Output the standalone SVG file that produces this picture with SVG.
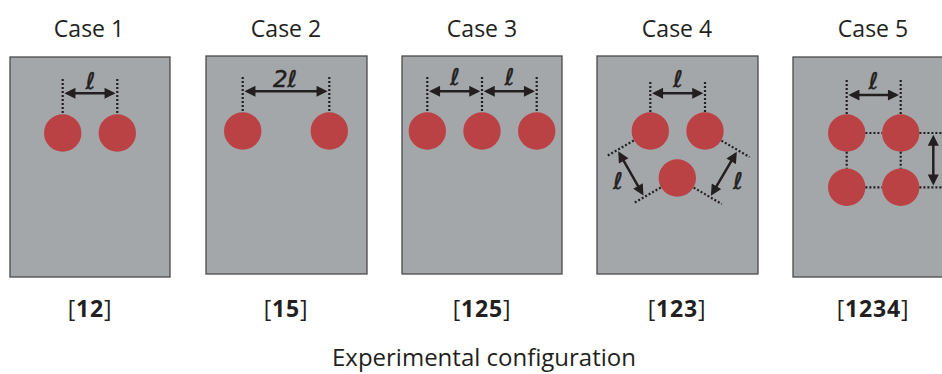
<svg xmlns="http://www.w3.org/2000/svg" width="942" height="374" viewBox="0 0 942 374">
<style>
.panel{fill:#a4a7aa;stroke:#4a4a4a;stroke-width:1.3}
.ball{fill:#bb4244}
.dot{stroke:#231f20;stroke-width:2.2;stroke-dasharray:2 2;fill:none}
.arr{stroke:#231f20;stroke-width:2.5;fill:none;marker-start:url(#ah);marker-end:url(#ah)}
.title{font-family:"Open Sans","Liberation Sans",sans-serif;font-size:23px;fill:#231f20;text-anchor:middle}
.ref{font-family:"Open Sans","Liberation Sans",sans-serif;font-size:23px;fill:#231f20;text-anchor:middle;letter-spacing:0.8px}
.ell{font-family:"DejaVu Sans",sans-serif;font-style:italic;font-size:23px;fill:#231f20;text-anchor:middle;stroke:#231f20;stroke-width:0.5}
.b{font-weight:bold}
</style>
<defs>
<marker id="ah" viewBox="0 0 10 10" refX="7.5" refY="5" markerUnits="userSpaceOnUse" markerWidth="12" markerHeight="11" orient="auto-start-reverse">
<path d="M0,0 L10,5 L0,10 z" fill="#231f20"/>
</marker>
</defs>

<g id="case1">
<text class="title" x="89" y="37">Case 1</text>
<rect class="panel" x="10" y="57" width="160" height="220"/>
<circle class="ball" cx="62.7" cy="133" r="18.7"/>
<circle class="ball" cx="117.3" cy="133" r="18.7"/>
<text class="ell" x="90.5" y="89">ℓ</text>
<text class="ref" x="90" y="317">[<tspan class="b">12</tspan>]</text>
</g>

<g id="case2">
<text class="title" x="286" y="37">Case 2</text>
<rect class="panel" x="206" y="56" width="161" height="218"/>
<circle class="ball" cx="242.7" cy="131" r="18.7"/>
<circle class="ball" cx="329.3" cy="131" r="18.7"/>
<text class="ell" x="285" y="87">2ℓ</text>
<text class="ref" x="286" y="317">[<tspan class="b">15</tspan>]</text>
</g>

<g id="case3">
<text class="title" x="482" y="37">Case 3</text>
<rect class="panel" x="402" y="56" width="160" height="218"/>
<circle class="ball" cx="427.3" cy="131" r="18.7"/>
<circle class="ball" cx="482" cy="131" r="18.7"/>
<circle class="ball" cx="536.7" cy="131" r="18.7"/>
<text class="ell" x="455" y="85">ℓ</text>
<text class="ell" x="509.5" y="85">ℓ</text>
<text class="ref" x="482" y="317">[<tspan class="b">125</tspan>]</text>
</g>

<g id="case4">
<text class="title" x="677" y="37">Case 4</text>
<rect class="panel" x="597" y="56" width="161" height="218"/>
<circle class="ball" cx="650.3" cy="131" r="18.7"/>
<circle class="ball" cx="705" cy="131" r="18.7"/>
<circle class="ball" cx="677.3" cy="178" r="18.7"/>
<text class="ell" x="678" y="87">ℓ</text>
<text class="ell" x="618" y="189">ℓ</text>
<text class="ell" x="738" y="189">ℓ</text>
<text class="ref" x="677" y="317">[<tspan class="b">123</tspan>]</text>
</g>

<g id="case5">
<text class="title" x="873" y="37">Case 5</text>
<rect class="panel" x="793" y="57" width="165" height="220"/>
<circle class="ball" cx="846.7" cy="133" r="18.7"/>
<circle class="ball" cx="900.7" cy="133" r="18.7"/>
<circle class="ball" cx="846.7" cy="187.3" r="18.7"/>
<circle class="ball" cx="900.7" cy="187.3" r="18.7"/>
<text class="ell" x="873.5" y="89">ℓ</text>
<text class="ell" x="948" y="168">ℓ</text>
<text class="ref" x="873" y="317">[<tspan class="b">1234</tspan>]</text>
</g>

<g id="connectors">
<!-- case 1 -->
<line class="dot" x1="62.7" y1="79" x2="62.7" y2="114"/>
<line class="dot" x1="117.3" y1="79" x2="117.3" y2="114"/>
<line class="arr" x1="67.2" y1="93.3" x2="112.8" y2="93.3"/>
<!-- case 2 -->
<line class="dot" x1="242.7" y1="77" x2="242.7" y2="112"/>
<line class="dot" x1="329.3" y1="77" x2="329.3" y2="112"/>
<line class="arr" x1="247.2" y1="91.3" x2="324.8" y2="91.3"/>
<!-- case 3 -->
<line class="dot" x1="427.3" y1="77" x2="427.3" y2="112"/>
<line class="dot" x1="482" y1="77" x2="482" y2="112"/>
<line class="dot" x1="536.7" y1="77" x2="536.7" y2="112"/>
<line class="arr" x1="431.8" y1="91.3" x2="477.5" y2="91.3"/>
<line class="arr" x1="486.5" y1="91.3" x2="532.2" y2="91.3"/>
<!-- case 4 -->
<line class="dot" x1="650.3" y1="82" x2="650.3" y2="112"/>
<line class="dot" x1="705" y1="82" x2="705" y2="112"/>
<line class="arr" x1="654.8" y1="93.3" x2="700.5" y2="93.3"/>
<line class="dot" x1="633.8" y1="140.5" x2="607" y2="155.9"/>
<line class="dot" x1="660.8" y1="187.5" x2="634" y2="202.9"/>
<line class="arr" x1="619.6" y1="153.7" x2="642.1" y2="193.1"/>
<line class="dot" x1="721.4" y1="140.6" x2="749.5" y2="157"/>
<line class="dot" x1="693.7" y1="187.6" x2="721.8" y2="204"/>
<line class="arr" x1="735.4" y1="154.2" x2="712.3" y2="193.4"/>
<!-- case 5 -->
<line class="dot" x1="846.7" y1="80" x2="846.7" y2="114"/>
<line class="dot" x1="900.7" y1="80" x2="900.7" y2="114"/>
<line class="arr" x1="851.2" y1="95" x2="896.2" y2="95"/>
<line class="dot" x1="865.4" y1="133" x2="882" y2="133"/>
<line class="dot" x1="865.4" y1="187.3" x2="882" y2="187.3"/>
<line class="dot" x1="919.4" y1="133" x2="944" y2="133"/>
<line class="dot" x1="919.4" y1="187.3" x2="944" y2="187.3"/>
<line class="dot" x1="846.7" y1="151.7" x2="846.7" y2="168.6"/>
<line class="dot" x1="900.7" y1="151.7" x2="900.7" y2="168.6"/>
<line class="arr" x1="933.3" y1="137.5" x2="933.3" y2="182.8"/>
</g>

<text class="title" x="484" y="366" style="font-size:24px">Experimental configuration</text>
</svg>
